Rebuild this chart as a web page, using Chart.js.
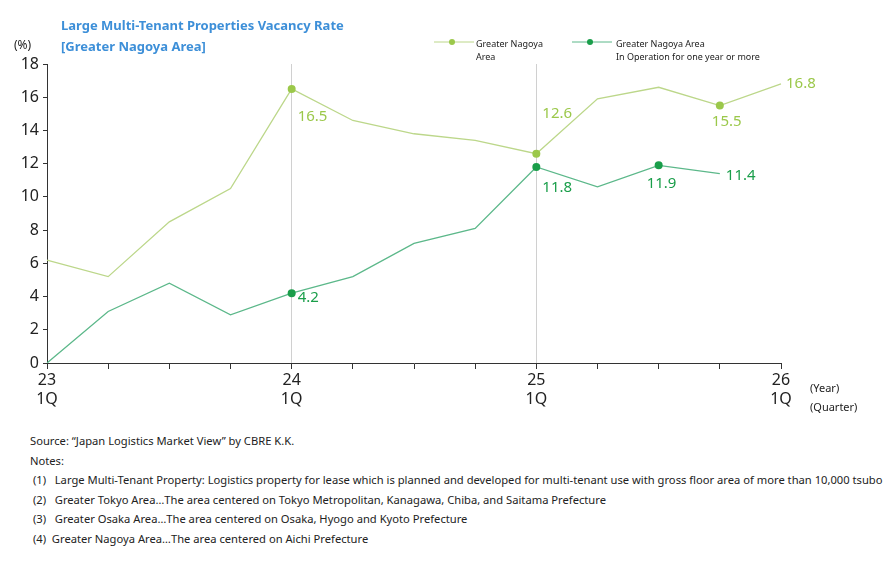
<!DOCTYPE html>
<html><head><meta charset="utf-8">
<script src="https://cdn.jsdelivr.net/npm/chart.js@4"></script>
<style>
body{margin:0;width:896px;height:566px;font-family:"Noto Sans",Arial,sans-serif;color:#222;position:relative;overflow:hidden}
#wrap{position:absolute;left:0;top:1px;width:896px;height:420px}
.t{position:absolute;color:#3d8fd8;font-weight:bold;font-size:13px}
.s{position:absolute;font-size:11px}
.leg{position:absolute;font-size:9px;line-height:13px}
.notes{position:absolute;left:30px;top:431px;font-size:11.2px;line-height:19.5px;white-space:nowrap}
</style></head><body>
<div id="wrap"><canvas id="c"></canvas></div>
<div class="t" style="left:61px;top:16px">Large Multi-Tenant Properties Vacancy Rate</div>
<div class="t" style="left:61px;top:37px">[Greater Nagoya Area]</div>
<div class="s" style="left:14px;top:36px;font-size:12px">(%)</div>
<div class="leg" style="left:434px;top:37px"><svg width="40" height="10"><line x1="0" y1="5" x2="40" y2="5" stroke="#bcd78a"/><circle cx="18" cy="5" r="3" fill="#9bc84a"/></svg></div>
<div class="leg" style="left:476px;top:37px">Greater Nagoya<br>Area</div>
<div class="leg" style="left:572px;top:37px"><svg width="40" height="10"><line x1="0" y1="5" x2="40" y2="5" stroke="#5cb88a"/><circle cx="18" cy="5" r="3" fill="#1a9e4a"/></svg></div>
<div class="leg" style="left:616px;top:37px">Greater Nagoya Area<br>In Operation for one year or more</div>
<div class="s" style="left:810px;top:380px">(Year)</div>
<div class="s" style="left:810px;top:399px">(Quarter)</div>
<div class="notes">Source: “Japan Logistics Market View” by CBRE K.K.<br>Notes:<br>
&nbsp;(1)&nbsp;&nbsp; Large Multi-Tenant Property: Logistics property for lease which is planned and developed for multi-tenant use with gross floor area of more than 10,000 tsubo<br>
&nbsp;(2)&nbsp;&nbsp; Greater Tokyo Area…The area centered on Tokyo Metropolitan, Kanagawa, Chiba, and Saitama Prefecture<br>
&nbsp;(3)&nbsp;&nbsp; Greater Osaka Area…The area centered on Osaka, Hyogo and Kyoto Prefecture<br>
&nbsp;(4)&nbsp; Greater Nagoya Area…The area centered on Aichi Prefecture</div>
<script>
var quarters = [['23','1Q'],'','','',['24','1Q'],'','','',['25','1Q'],'','','',['26','1Q']];
var nagoya = [6.2, 5.2, 8.5, 10.5, 16.5, 14.6, 13.8, 13.4, 12.6, 15.9, 16.6, 15.5, 16.8];
var nagoyaOneYear = [0, 3.1, 4.8, 2.9, 4.2, 5.2, 7.2, 8.1, 11.8, 10.6, 11.9, 11.4, null];
var nagoyaMarked = [4, 8, 11];
var oneYearMarked = [4, 8, 10];
var nagoyaLabels = {4: [6, 28], 8: [6, -40], 11: [-8, 16], 12: [5, 0]};
var oneYearLabels = {4: [6, 5], 8: [6, 21], 10: [-12, 18], 11: [6, 2]};

function radii(marked, n) { return Array.from({length: n}, (_, i) => marked.includes(i) ? 4 : 0); }

var valueLabels = {
  id: 'valueLabels',
  afterDatasetsDraw(chart) {
    var ctx = chart.ctx, xs = chart.scales.x, ys = chart.scales.y;
    ctx.save();
    ctx.font = '15px "Noto Sans"';
    ctx.textBaseline = 'middle';
    [[nagoya, nagoyaLabels, '#9bc84a'], [nagoyaOneYear, oneYearLabels, '#1a9e4a']].forEach(function (s) {
      ctx.fillStyle = s[2];
      Object.keys(s[1]).forEach(function (k) {
        var i = +k, o = s[1][k];
        ctx.fillText(s[0][i].toFixed(1), xs.getPixelForValue(i) + o[0], ys.getPixelForValue(s[0][i]) + o[1]);
      });
    });
    ctx.restore();
  }
};

new Chart(document.getElementById('c'), {
  type: 'line',
  data: {
    labels: quarters,
    datasets: [{
      data: nagoya, borderColor: '#bcd78a', borderWidth: 1.3,
      pointBackgroundColor: '#9bc84a', pointBorderWidth: 0,
      pointRadius: radii(nagoyaMarked, nagoya.length), tension: 0
    }, {
      data: nagoyaOneYear, borderColor: '#5cb88a', borderWidth: 1.3,
      pointBackgroundColor: '#1a9e4a', pointBorderWidth: 0,
      pointRadius: radii(oneYearMarked, nagoyaOneYear.length), tension: 0
    }]
  },
  options: {
    responsive: true, maintainAspectRatio: false, animation: false,
    layout: {padding: {left: 0, right: 115, top: 63, bottom: 0}},
    plugins: {legend: {display: false}, tooltip: {enabled: false}},
    scales: {
      x: {
        offset: false,
        afterFit(s) { s.height = 58; },
        border: {color: '#333'},
        grid: {
          color: c => (c.index === 4 || c.index === 8) ? '#d0d0d0' : 'rgba(0,0,0,0)',
          tickColor: '#333', tickLength: 6, drawOnChartArea: true
        },
        ticks: {autoSkip: false, maxRotation: 0, color: '#222', font: {size: 16, family: 'Noto Sans'}, padding: 2}
      },
      y: {
        min: 0, max: 18,
        afterFit(s) { s.width = 47; },
        border: {color: '#333'},
        grid: {color: 'rgba(0,0,0,0)', tickColor: '#333', tickLength: 4},
        ticks: {stepSize: 2, color: '#222', font: {size: 16, family: 'Noto Sans'}, padding: 4}
      }
    }
  },
  plugins: [valueLabels]
});
</script>
</body></html>
